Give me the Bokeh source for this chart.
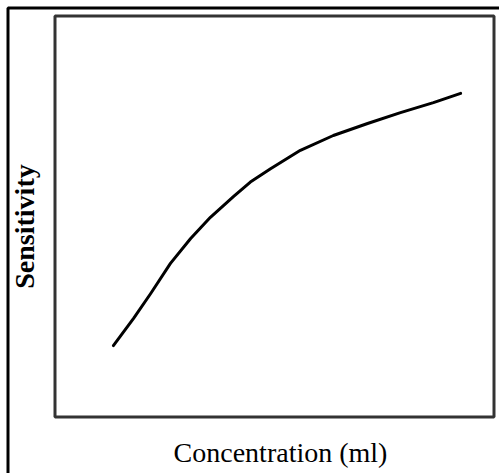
from bokeh.plotting import figure
from bokeh.models import Range1d
from bokeh.core.properties import value
from bokeh.embed import file_html
from bokeh.resources import INLINE

# Data (arbitrary units)
concentration = [1.33, 1.79, 2.18, 2.63, 3.09, 3.54, 4.07, 4.45, 4.91, 5.59, 6.34, 7.12, 7.87, 8.62, 9.24]
sensitivity = [1.78, 2.46, 3.08, 3.83, 4.45, 4.98, 5.50, 5.86, 6.19, 6.65, 7.02, 7.32, 7.59, 7.84, 8.07]
axis_limits = [0, 10]

x_title = "Concentration (ml)"
y_title = "Sensitivity"

# ---- layout geometry (canvas pixels) ----
W, H = 499, 473
BOX_L, BOX_R, BOX_T, BOX_B = 54.5, 493.5, 15.5, 416.5   # inner plot box
OUTER = 7.5                                             # outer picture border

lo, hi = axis_limits
sx = (hi - lo) / (BOX_R - BOX_L)
sy = (hi - lo) / (BOX_B - BOX_T)


def dx(px):
    return lo + (px - BOX_L) * sx


def dy(py):
    return lo + (BOX_B - py) * sy


p = figure(width=W, height=H, output_backend="svg", toolbar_location=None,
           x_range=Range1d(dx(0), dx(W)), y_range=Range1d(dy(H), dy(0)),
           x_axis_location=None, y_axis_location=None,
           min_border=0, min_border_left=0, min_border_right=0,
           min_border_top=0, min_border_bottom=0)
p.grid.visible = False
p.outline_line_color = None
p.background_fill_color = "white"
p.border_fill_color = "white"

# outer border (only top and left edges fall inside the picture)
p.quad(left=dx(OUTER), right=dx(W + 50), top=dy(OUTER), bottom=dy(H + 50),
       fill_color=None, line_color="black", line_width=3)

# inner plot box
p.quad(left=lo, right=hi, bottom=lo, top=hi,
       fill_color=None, line_color="#333333", line_width=3)

# the curve
p.line(concentration, sensitivity, line_color="black", line_width=3,
       line_join="round", line_cap="round")

# axis titles
p.text(x=[dx(280)], y=[dy(452)], text=[x_title],
       text_font=value("Liberation Serif"), text_font_size="28px",
       text_color="black", text_align="center", text_baseline="middle")
p.text(x=[dx(24)], y=[dy(226)], text=[y_title],
       text_font=value("Liberation Serif"), text_font_size="28px",
       text_font_style="bold", text_color="black",
       text_align="center", text_baseline="middle", angle=1.5707963)

open("out.html", "w").write(file_html(p, INLINE))
